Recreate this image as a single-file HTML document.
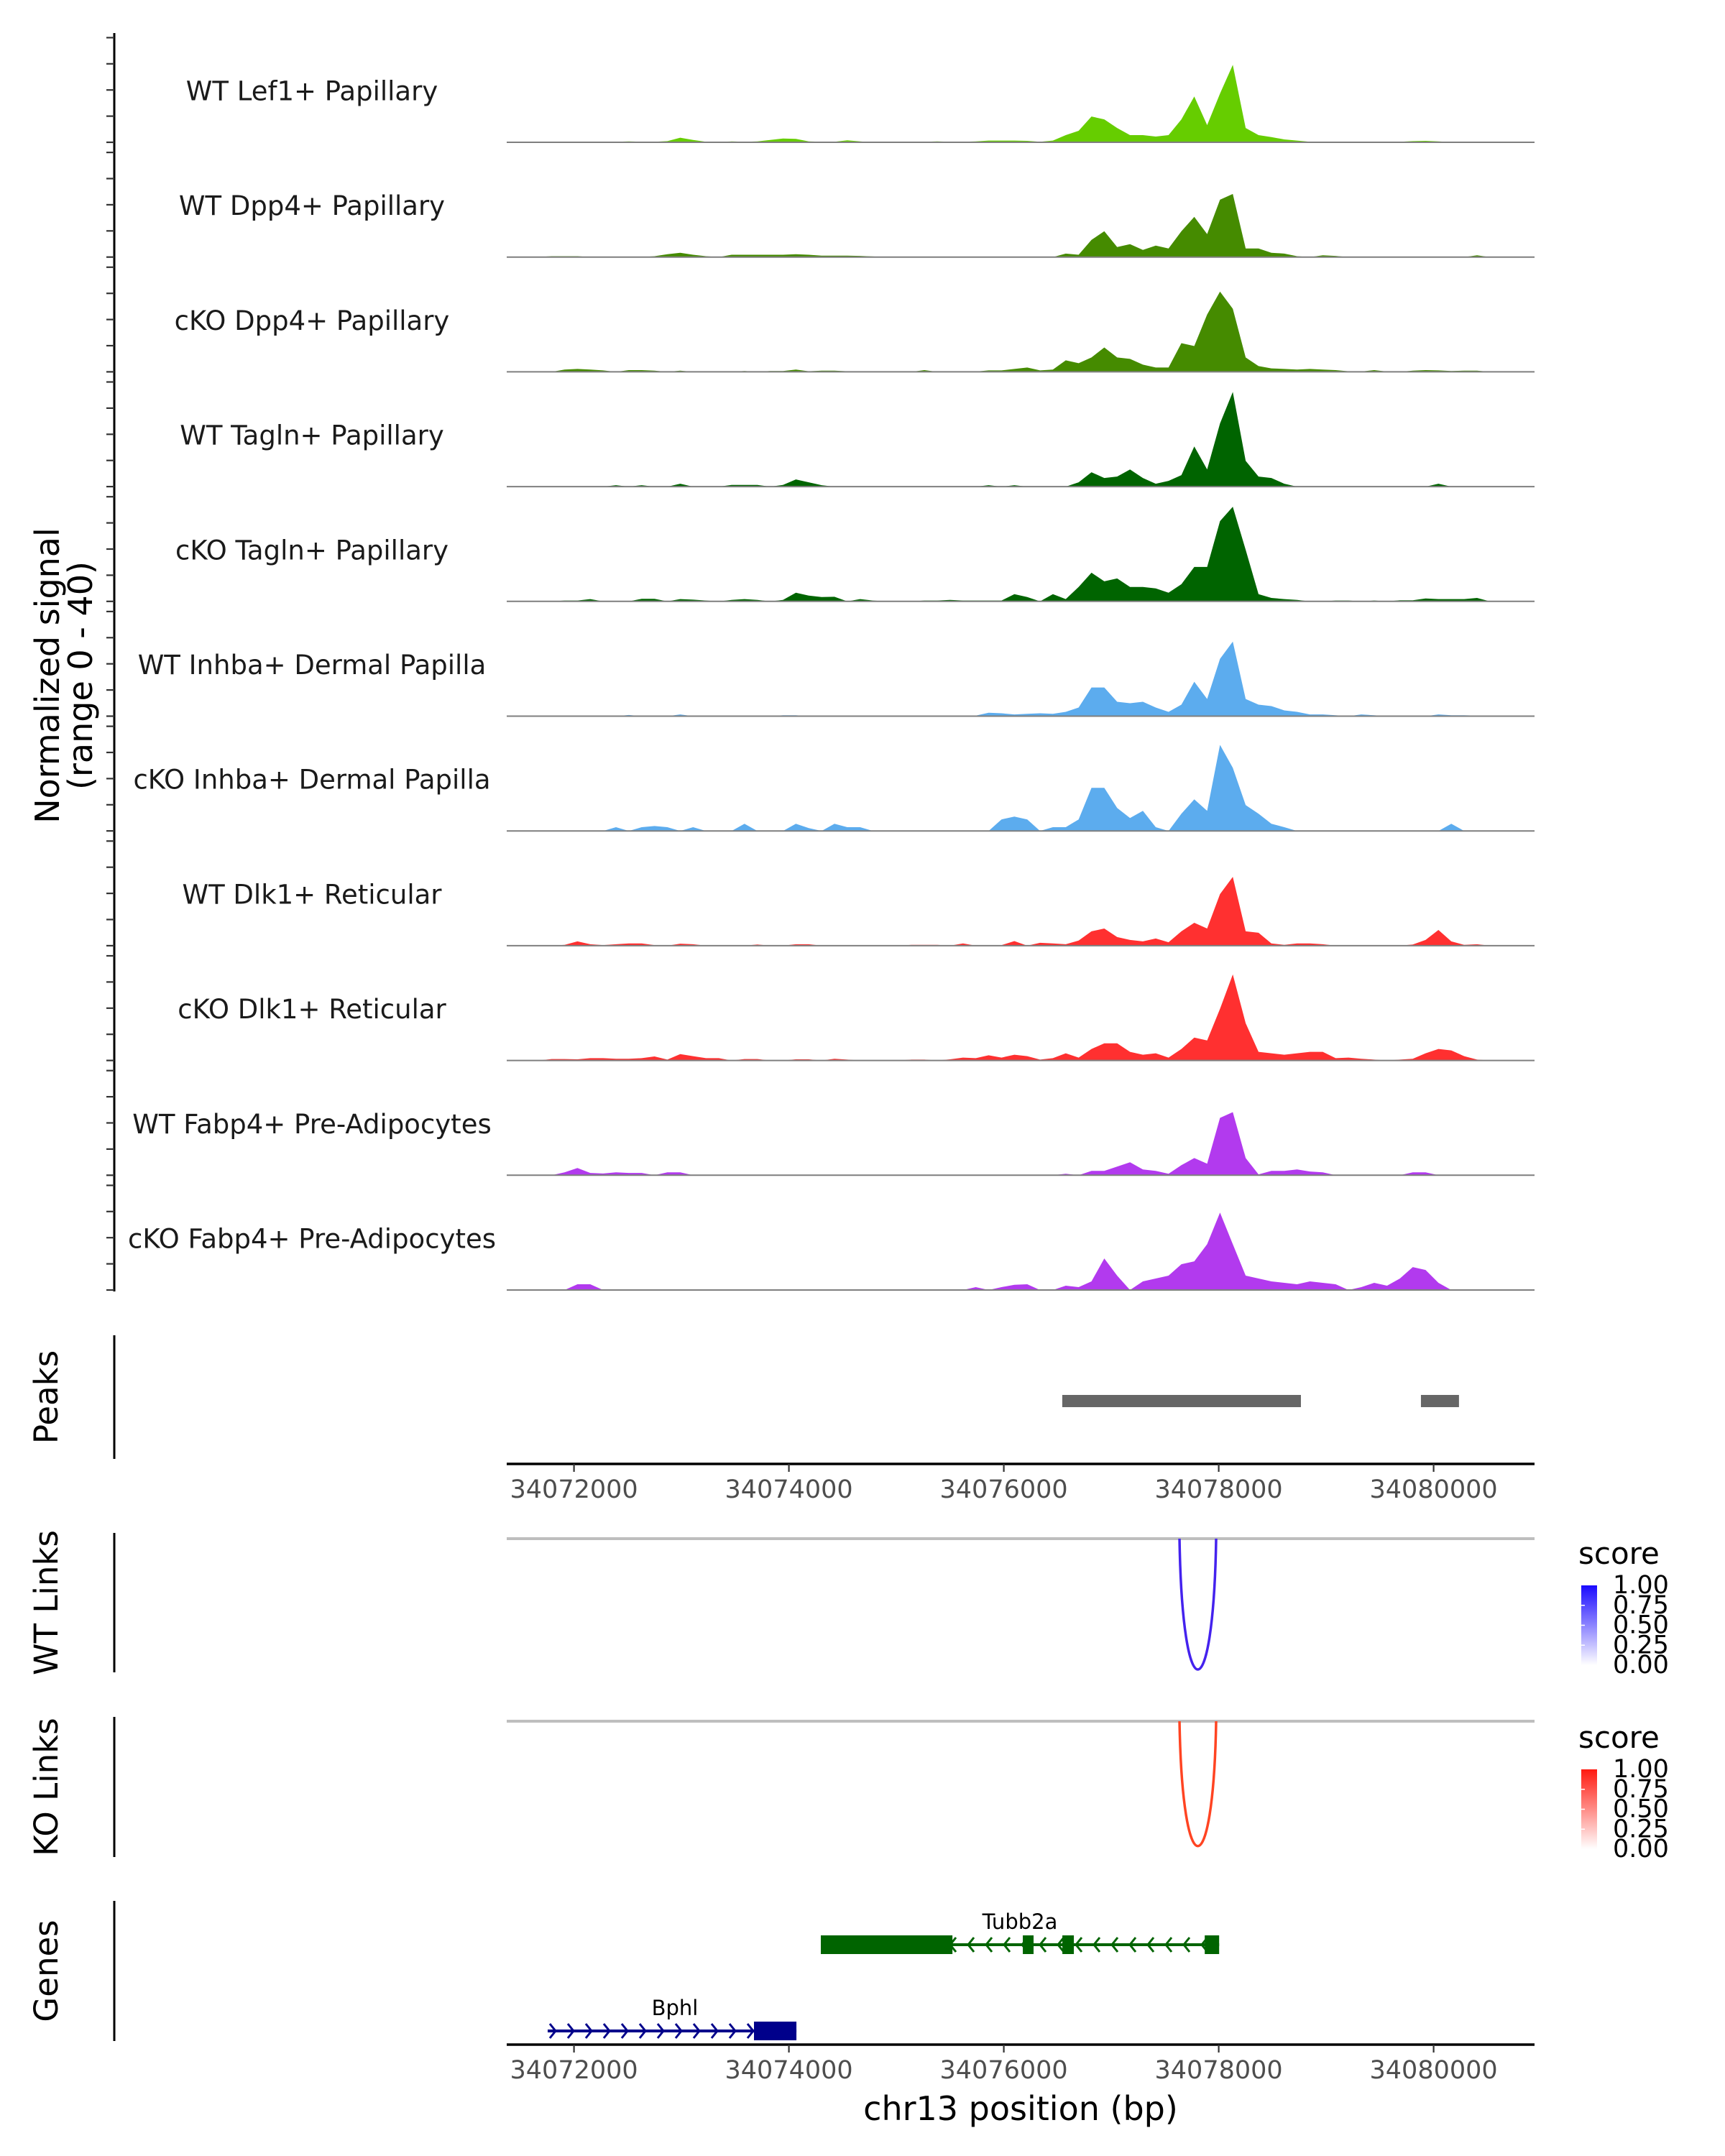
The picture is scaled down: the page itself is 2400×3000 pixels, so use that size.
<!DOCTYPE html>
<html><head><meta charset="utf-8"><style>
html,body{margin:0;padding:0;background:#fff;}
svg{display:block;font-family:"DejaVu Sans","Liberation Sans",sans-serif;}
</style></head><body>
<svg id="chart" xmlns="http://www.w3.org/2000/svg" width="2400" height="3000" viewBox="0 0 2400 3000">
<rect width="2400" height="3000" fill="#fff"/>
<g id="tracks"></g>
<g id="lower"></g>
</svg>
<script>
const trackLabels = ["WT Lef1+ Papillary","WT Dpp4+ Papillary","cKO Dpp4+ Papillary","WT Tagln+ Papillary","cKO Tagln+ Papillary","WT Inhba+ Dermal Papilla","cKO Inhba+ Dermal Papilla","WT Dlk1+ Reticular","cKO Dlk1+ Reticular","WT Fabp4+ Pre-Adipocytes","cKO Fabp4+ Pre-Adipocytes"];
const trackColors = ["#66CD00","#458B00","#458B00","#006400","#006400","#5CACEE","#5CACEE","#FF3030","#FF3030","#B23AEE","#B23AEE"];
const sigLef1WT = [0,0,0,.2,.2,.2,.2,.2,.2,.3, .2,.2,.4,1.6,.8,.2,.2,.3,.2,.3, .8,1.3,1.2,.3,.2,.2,.7,.3,0,0, 0,0,.2,.3,.2,.2,.3,.6,.6,.6, .5,.2,.6,2.5,4,9,8,5,2.5,2.5, 2,2.5,8,16,6,17,27,5,2.5,1.8, 1,.6,.2,.2,.2,.2,.2,.2,.1,.2, .4,.5,.3,.1,0,0,0,0,0,0];
const sigDpp4WT = [0,0,0,.3,.3,.3,0,0,0,0, 0,.3,1,1.5,.8,.3,0,.8,.8,.8, .8,.8,1,.8,.5,.5,.5,.4,.2,0, 0,0,0,0,0,0,0,0,0,0, 0,0,0,1.2,.8,6,9,3.5,4.5,2.5, 4,3,9,14,8,20,22,3,3,1.5, 1.2,.3,0,.6,.4,0,0,0,0,0, 0,0,0,0,0,.6,0,0,0,0];
const sigDpp4KO = [0,0,0,0,.8,1,.8,.5,0,.6, .6,.4,0,.4,0,0,0,0,.3,0, .3,.3,.8,.2,.4,.4,.2,0,0,.2, 0,0,.6,0,.1,.1,.1,.5,.5,1, 1.5,.5,.8,4,3,5,8.5,5,4.5,2.5, 1.5,1.5,10,9,20,28,22,5,2,1.2, 1,.8,1,.8,.6,.2,.1,.6,.1,0, .4,.6,.5,.3,.4,.4,0,0,0,0];
const sigTaglnWT = [0,0,0,0,0,0,0,0,.5,0, .5,0,0,1,0,0,0,.6,.6,.6, 0,.6,2.5,1.5,.5,0,0,0,0,0, 0,0,0,0,0,0,0,.5,0,.5, 0,0,0,0,1.5,5,3,3.5,6,3, 1,2,4,14,6,22,33,9,3.5,3, 1,0,0,0,0,0,0,0,0,0, 0,0,1,0,0,0,0,0,0,0];
const sigTaglnKO = [0,0,0,0,.3,.3,.8,0,0,0, .9,.9,0,.8,.6,.3,0,.5,.8,.5, 0,.5,3,2,1.5,1.6,0,.8,.3,0, 0,0,.3,.3,.5,.3,.3,.3,.3,2.5, 1.5,0,2.5,.8,5,10,7,8,5,5, 4.5,3,6,12,12,28,33,18,2.5,1.2, .8,.5,0,0,.3,.3,0,.3,0,.4, .4,1,.8,.8,.8,1.2,0,0,0,0];
const sigInhbaWT = [0,0,0,0,0,0,0,0,0,.4, 0,0,0,.6,0,0,0,0,0,0, 0,.3,.3,0,0,0,0,0,0,0, 0,0,0,0,0,0,.2,1.2,1,.6, .8,1,.8,1.5,3,10,10,5,4.5,5, 3,1.5,4,12,6,20,26,6,4,3.5, 2,1.5,.6,.6,.3,0,.6,.3,0,0, 0,0,.6,.3,.3,.2,0,0,0,0];
const sigInhbaKO = [0,0,0,0,0,0,0,0,1.3,0, 1.3,1.7,1.3,0,1.3,0,0,0,2.5,0, 0,0,2.5,1,0,2.5,1.3,1.3,0,0, 0,0,0,0,0,0,0,0,4,5, 4,0,1.3,1.3,4,15,15,8,4.5,7, 1.3,0,6,11,7,30,22,9,6,2.5, 1.3,0,0,0,0,0,0,0,0,0, 0,0,0,2.5,0,0,0,0,0,0];
const sigDlk1WT = [0,0,0,0,.3,1.5,.5,.2,.5,.8, .8,.2,0,.7,.5,0,0,0,0,.4, 0,0,.5,.5,0,0,.2,.2,0,0, 0,.3,.3,.3,0,.8,0,0,.2,1.6, 0,1,.8,.5,1.8,5,6,3,2,1.5, 2.5,1.2,5,8,6,18,24,5,4.5,.8, .3,.8,.8,.5,0,0,0,0,0,0, .4,2,5.5,1.5,.3,.5,0,0,0,0];
const sigDlk1KO = [0,0,0,.5,.5,.4,.8,.8,.6,.6, .8,1.4,.3,2.2,1.5,.8,.8,0,.5,.5, 0,0,.4,.4,0,.6,.3,0,0,0, 0,.3,.3,0,.4,1,.8,1.8,1,2, 1.5,.3,.8,2.5,1,4,6,6,3,2, 2.5,1,4,8,7,18,30,13,3,2.5, 2,2.5,3,3,.8,1,.6,.3,0,.3, .6,2.5,4,3.5,1.5,.3,0,0,0,0];
const sigFabp4WT = [0,0,0,0,1,2.5,.8,.6,1,.8, .8,0,1,1,0,0,0,0,0,0, 0,0,0,0,0,0,0,0,0,0, 0,0,0,0,0,0,0,0,0,0, 0,0,0,.5,0,1.5,1.5,3,4.5,2, 1.5,.5,3.5,6,4,20,22,6,.3,1.5, 1.5,2,1.3,1,0,0,0,0,0,0, 1,1,0,0,0,0,0,0,0,0];
const sigFabp4KO = [0,0,0,0,0,2,2,0,0,0, 0,0,0,0,0,0,0,0,0,0, 0,0,0,0,0,0,0,0,0,0, 0,0,0,0,0,0,1,0,1,1.8, 2,0,0,1.5,1,3,11,5,0,3, 4,5,9,10,16,27,16,5,4,3, 2.5,2,3,2.5,2,0,1,2.5,1.5,4, 8,7,2.5,0,0,0,0,0,0,0];
const trackSignals = [sigLef1WT,sigDpp4WT,sigDpp4KO,sigTaglnWT,sigTaglnKO,sigInhbaWT,sigInhbaKO,sigDlk1WT,sigDlk1KO,sigFabp4WT,sigFabp4KO];
const binStartBp = 34071374;
const binSizeBp = 119.6;
const xTicks = [34072000,34074000,34076000,34078000,34080000];
const peakStarts = [34076544,34079882];
const peakEnds = [34078765,34080236];
const wtLinkStart = [34077635], wtLinkEnd = [34077976], wtLinkScore = [0.9];
const koLinkStart = [34077635], koLinkEnd = [34077976], koLinkScore = [0.85];
const geneNames = ["Tubb2a","Bphl"];
const geneStarts = [34074297,34071755];
const geneEnds = [34078004,34074070];
const geneStrands = ["-","+"];
const geneColors = ["#006400","#00008B"];
const exonStarts = [[34074297,34076177,34076545,34077870],[34073675]];
const exonEnds = [[34075522,34076277,34076652,34078004],[34074070]];
const legendTicks = ["1.00","0.75","0.50","0.25","0.00"];

const NS="http://www.w3.org/2000/svg";
const X0=705, X1=2135;
const pxPerBp=0.1495, refBp=34072000, refX=798.6;
function xs(bp){return refX+(bp-refBp)*pxPerBp;}
const base0=198, trackGap=159.7, pxPerUnit=3.99;
function ys(t,v){return base0+t*trackGap - v*pxPerUnit;}
function mk(tag,attrs,parent){const e=document.createElementNS(NS,tag);for(const k in attrs)e.setAttribute(k,attrs[k]);parent.appendChild(e);return e;}
const tg=document.getElementById('tracks');
const lg=document.getElementById('lower');

let ax=mk('line',{x1:159,y1:46,x2:159,y2:1797,stroke:'#000','stroke-width':3},tg);


trackSignals.forEach((sig,t)=>{
  for(let j=0;j<=4;j++){
    const y=base0+t*trackGap-j*36.4;
    const tk=mk('line',{x1:148,y1:y,x2:159,y2:y,stroke:'#333','stroke-width':2.2},tg);
    
    
  }
  let d='M'+xs(binStartBp)+','+ys(t,0);
  sig.forEach((v,i)=>{d+=' L'+xs(binStartBp+(i+0.5)*binSizeBp).toFixed(1)+','+ys(t,v).toFixed(1);});
  d+=' L'+xs(binStartBp+sig.length*binSizeBp)+','+ys(t,0)+' Z';
  const p=mk('path',{d:d,fill:trackColors[t],stroke:'none'},tg);
  
  
  const bl=mk('line',{x1:X0,y1:ys(t,0),x2:X1,y2:ys(t,0),stroke:'#7f7f7f','stroke-width':2},tg);
  
  
  const tx=mk('text',{x:434,y:base0+t*trackGap-71,'text-anchor':'middle','dominant-baseline':'central','font-size':37,fill:'#1a1a1a'},tg);
  tx.textContent=trackLabels[t];
  
  
});
const yt=mk('text',{transform:'translate(82,940) rotate(-90)','text-anchor':'middle','font-size':46,fill:'#000'},tg);


const ts1=mk('tspan',{x:0,dy:0},yt);ts1.textContent='Normalized signal';
const ts2=mk('tspan',{x:0,dy:46},yt);ts2.textContent='(range 0 - 40)';

function sideAxis(y1,y2,label,name){
  const l=mk('line',{x1:159,y1:y1,x2:159,y2:y2,stroke:'#000','stroke-width':3},lg);
  
  
  const t=mk('text',{transform:'translate(80,'+((y1+y2)/2)+') rotate(-90)','text-anchor':'middle','font-size':45,fill:'#000'},lg);
  t.textContent=label;
  
  
}
function xAxis(y,name){
  const l=mk('line',{x1:X0,y1:y,x2:X1,y2:y,stroke:'#000','stroke-width':3.5},lg);
  
  
  xTicks.forEach(v=>{
    const tk=mk('line',{x1:xs(v),y1:y,x2:xs(v),y2:y+11,stroke:'#333','stroke-width':2.2},lg);
    
    
    const tl=mk('text',{x:xs(v),y:y+47,'text-anchor':'middle','font-size':35,fill:'#4d4d4d'},lg);
    tl.textContent=v;
    
    
  });
}
sideAxis(1858,2030,'Peaks','peaks');
peakStarts.forEach((s,i)=>{
  const r=mk('rect',{x:xs(s),y:1941,width:xs(peakEnds[i])-xs(s),height:17,fill:'#666'},lg);
  
  
});
xAxis(2037,'peaks-x-axis');

function links(y0,bottom,starts,ends,scores,color,name){
  const gl=mk('line',{x1:X0,y1:y0,x2:X1,y2:y0,stroke:'#bebebe','stroke-width':4},lg);
  
  
  starts.forEach((s,i)=>{
    const a=xs(s),b=xs(ends[i]);
    const k=(bottom-y0)/0.75*scores[i]/0.9;
    const p=mk('path',{d:`M${a},${y0} C${a+4},${y0+k} ${b-4},${y0+k} ${b},${y0}`,fill:'none',stroke:color,'stroke-width':3.5},lg);
    
    
  });
}
sideAxis(2133,2327,'WT Links','wt-links');
links(2141,2323,wtLinkStart,wtLinkEnd,wtLinkScore,'#4422EE','wt-link');
sideAxis(2389,2584,'KO Links','ko-links');
links(2395,2579,koLinkStart,koLinkEnd,koLinkScore,'#FF4422','ko-link');

const defs=mk('defs',{},lg);
function grad(id,c){const g=mk('linearGradient',{id:id,x1:0,y1:0,x2:0,y2:1},defs);mk('stop',{offset:0,'stop-color':c},g);mk('stop',{offset:1,'stop-color':'#fff'},g);}
grad('gwt','#1a0aff');grad('gko','#ff1a10');
function legend(ty,by,gid,name){
  const t=mk('text',{x:2196,y:ty,'font-size':42,fill:'#000'},lg);t.textContent='score';
  
  
  const r=mk('rect',{x:2200,y:by,width:22,height:111,fill:'url(#'+gid+')'},lg);
  
  
  legendTicks.forEach((lab,i)=>{
    const y=by+i*111/4;
    const tl=mk('text',{x:2244,y:y,'dominant-baseline':'central','font-size':35,fill:'#000'},lg);tl.textContent=lab;
    
    
    if(i>0&&i<4){const tk=mk('line',{x1:2200,y1:y,x2:2205,y2:y,stroke:'#fff','stroke-width':1.5},lg);}
  });
}
legend(2176,2206,'gwt','wt-legend');
legend(2432,2462,'gko','ko-legend');

sideAxis(2645,2840,'Genes','genes');
const geneY=[2706,2826];
geneNames.forEach((nm,g)=>{
  const y=geneY[g],c=geneColors[g];
  const a=xs(geneStarts[g]),b=xs(geneEnds[g]);
  const ln=mk('line',{x1:a,y1:y,x2:b,y2:y,stroke:c,'stroke-width':4},lg);
  
  
  for(let x=a+8;x<b-4;x+=25){
    const d=geneStrands[g]==='+'?`M${x-5},${y-10} L${x+3},${y} L${x-5},${y+10}`:`M${x+5},${y-10} L${x-3},${y} L${x+5},${y+10}`;
    const ch=mk('path',{d:d,fill:'none',stroke:c,'stroke-width':3},lg);
    
    
  }
  exonStarts[g].forEach((s,i)=>{
    const r=mk('rect',{x:xs(s),y:y-13,width:Math.max(xs(exonEnds[g][i])-xs(s),12),height:26,fill:c},lg);
    
    
  });
  const lx=g===0?1419:939;
  const t=mk('text',{x:lx,y:y-22,'text-anchor':'middle','font-size':29,fill:'#000'},lg);t.textContent=nm;
  
  
});
xAxis(2845,'genes-x-axis');
const xt=mk('text',{x:1420,y:2950,'text-anchor':'middle','font-size':46,fill:'#000'},lg);
xt.textContent='chr13 position (bp)';


</script>
</body></html>
